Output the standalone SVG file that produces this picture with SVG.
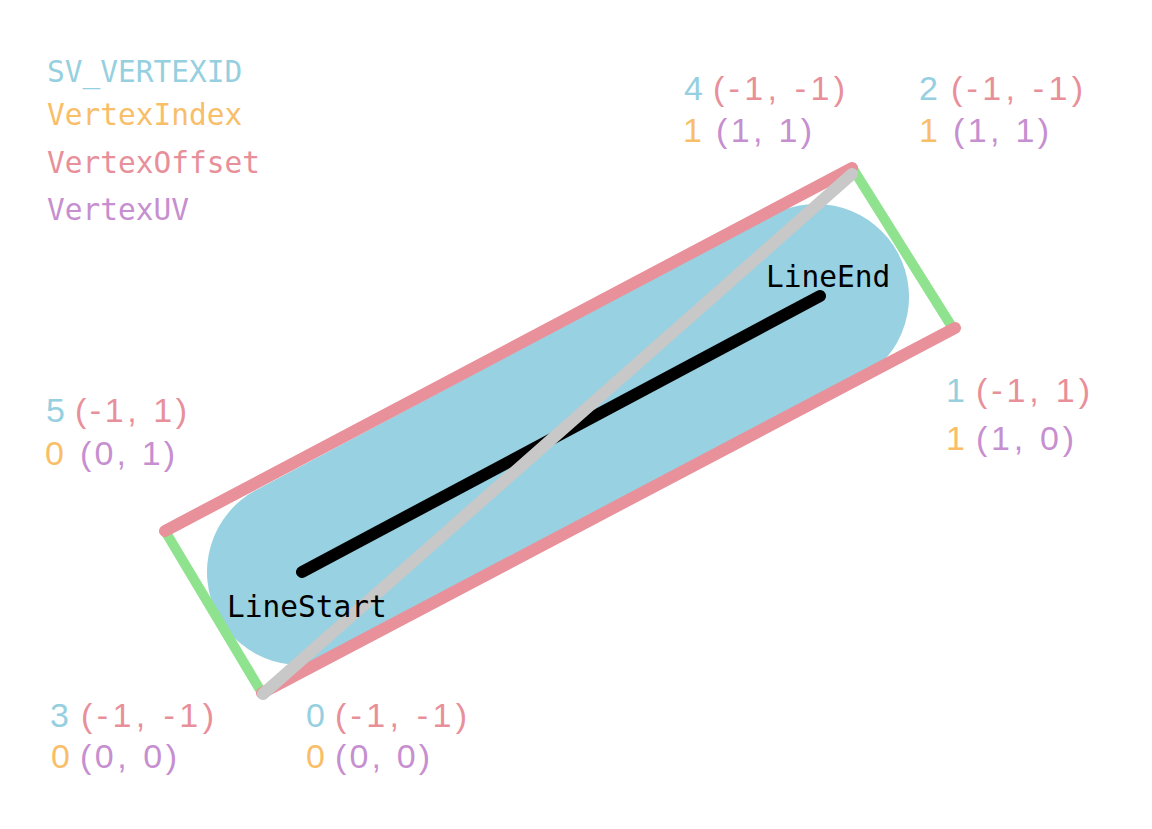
<svg xmlns="http://www.w3.org/2000/svg" width="1152" height="829" viewBox="0 0 1152 829">
<style>
.mono{font-family:"DejaVu Sans Mono","Liberation Mono",monospace;font-size:29.5px}
.num{font-family:"Liberation Sans","Noto Sans",sans-serif;font-size:34px}
.cid{fill:#96D0E0}
.cix{fill:#F8BE68}
.cof{fill:#E8909A}
.cuv{fill:#C68FD0}
.red{stroke:#E9919B;stroke-width:12;stroke-linecap:round;fill:none}
.green{stroke:#8FE38F;stroke-width:10;stroke-linecap:round;fill:none}
</style>
<rect width="1152" height="829" fill="#FFFFFF"/>
<g id="legend">
<text class="mono cid" x="47" y="82">SV_VERTEXID</text>
<text class="mono cix" x="47" y="125">VertexIndex</text>
<text class="mono cof" x="47" y="173">VertexOffset</text>
<text class="mono cuv" x="47" y="220">VertexUV</text>
</g>
<g id="capsule">
<line x1="300" y1="572" x2="816" y2="297" stroke="#98D1E1" stroke-width="186" stroke-linecap="round"/>
</g>
<g id="line-segment">
<line x1="302" y1="572" x2="820" y2="296" stroke="#000000" stroke-width="12" stroke-linecap="round"/>
</g>
<g id="connectors">
<line class="green" x1="165" y1="531" x2="262" y2="693"/>
<line class="green" x1="853" y1="169" x2="952" y2="327"/>
<line class="red" x1="165" y1="531" x2="852" y2="168"/>
<line class="red" x1="262" y1="693" x2="955" y2="328"/>
<line x1="263" y1="694" x2="852" y2="174" stroke="#C8C8C8" stroke-width="12" stroke-linecap="round"/>
</g>
<g id="line-end">
<text class="mono" x="766" y="287" fill="#000000">LineEnd</text>
</g>
<g id="line-start">
<text class="mono" x="227" y="617" fill="#000000">LineStart</text>
</g>
<g id="vertex4">
<text class="num cid" x="684" y="100">4</text>
<text class="num cof" x="713" y="100" textLength="132" lengthAdjust="spacing">(-1, -1)</text>
<text class="num cix" x="683" y="142">1</text>
<text class="num cuv" x="716" y="142" textLength="96" lengthAdjust="spacing">(1, 1)</text>
</g>
<g id="vertex2">
<text class="num cid" x="919" y="100">2</text>
<text class="num cof" x="951" y="100" textLength="132" lengthAdjust="spacing">(-1, -1)</text>
<text class="num cix" x="919" y="142">1</text>
<text class="num cuv" x="953" y="142" textLength="96" lengthAdjust="spacing">(1, 1)</text>
</g>
<g id="vertex1">
<text class="num cid" x="946" y="402">1</text>
<text class="num cof" x="976" y="402" textLength="114" lengthAdjust="spacing">(-1, 1)</text>
<text class="num cix" x="946" y="450">1</text>
<text class="num cuv" x="976" y="450" textLength="98" lengthAdjust="spacing">(1, 0)</text>
</g>
<g id="vertex5">
<text class="num cid" x="46" y="422">5</text>
<text class="num cof" x="75" y="422" textLength="112" lengthAdjust="spacing">(-1, 1)</text>
<text class="num cix" x="45" y="465">0</text>
<text class="num cuv" x="80" y="465" textLength="95" lengthAdjust="spacing">(0, 1)</text>
</g>
<g id="vertex3">
<text class="num cid" x="50" y="727">3</text>
<text class="num cof" x="81" y="727" textLength="133" lengthAdjust="spacing">(-1, -1)</text>
<text class="num cix" x="51" y="768">0</text>
<text class="num cuv" x="80" y="768" textLength="97" lengthAdjust="spacing">(0, 0)</text>
</g>
<g id="vertex0">
<text class="num cid" x="306" y="727">0</text>
<text class="num cof" x="335" y="727" textLength="132" lengthAdjust="spacing">(-1, -1)</text>
<text class="num cix" x="306" y="768">0</text>
<text class="num cuv" x="335" y="768" textLength="95" lengthAdjust="spacing">(0, 0)</text>
</g>
</svg>
